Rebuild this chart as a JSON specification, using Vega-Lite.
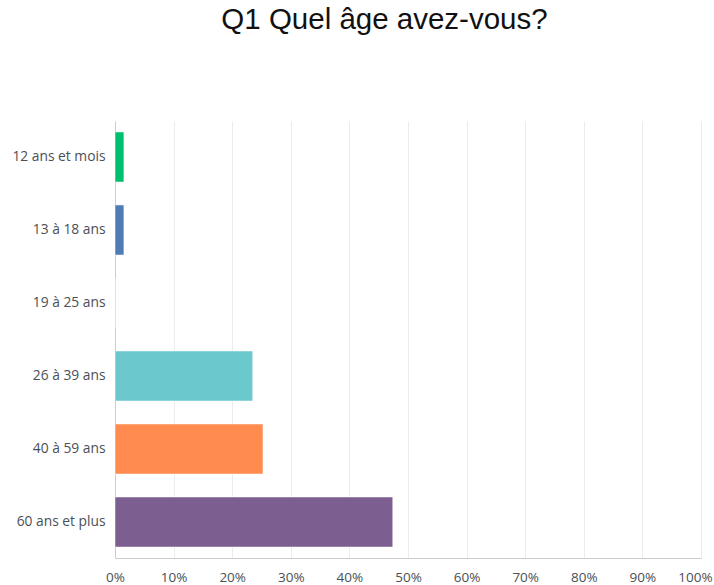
{
  "$schema": "https://vega.github.io/schema/vega-lite/v6.json",
  "width": 586,
  "height": 437,
  "autosize": {"type": "none"},
  "padding": {"left": 115, "top": 121, "right": 13, "bottom": 27},
  "background": "white",
  "title": {
    "text": "Q1 Quel âge avez-vous?",
    "font": "Liberation Sans",
    "fontSize": 29.5,
    "fontWeight": "normal",
    "color": "#111111",
    "anchor": "middle",
    "frame": "group",
    "dx": -23.5,
    "baseline": "alphabetic",
    "offset": 63
  },
  "data": {
    "values": [
      {"age": "12 ans et mois", "pct": 1.52},
      {"age": "13 à 18 ans", "pct": 1.52},
      {"age": "19 à 25 ans", "pct": 0},
      {"age": "26 à 39 ans", "pct": 23.5},
      {"age": "40 à 59 ans", "pct": 25.25},
      {"age": "60 ans et plus", "pct": 47.4}
    ]
  },
  "config": {
    "view": {"stroke": null},
    "axis": {"labelFont": "Open Sans", "labelFontSize": 13.8, "labelColor": "#4a4f55"}
  },
  "mark": {"type": "bar", "strokeWidth": 1, "strokeOpacity": 0.5, "stroke": "white"},
  "encoding": {
    "y": {
      "field": "age",
      "type": "nominal",
      "sort": null,
      "scale": {"paddingInner": 0.314, "paddingOuter": 0.15},
      "axis": {
        "title": null,
        "ticks": false,
        "domain": true,
        "domainColor": "#cccccc",
        "labelPadding": 10,
        "grid": false
      }
    },
    "x": {
      "field": "pct",
      "type": "quantitative",
      "scale": {"domain": [0, 100], "nice": false},
      "axis": {
        "title": null,
        "values": [0, 10, 20, 30, 40, 50, 60, 70, 80, 90, 100],
        "labelExpr": "datum.value + '%'",
        "labelFlush": false,
        "labelOffset": {"condition": {"test": "datum.value == 100", "value": -6}, "value": 0},
        "ticks": false,
        "domain": true,
        "domainColor": "#cccccc",
        "grid": true,
        "gridColor": "#ececec",
        "labelPadding": 12,
        "labelFontSize": 13.5
      }
    },
    "color": {
      "field": "age",
      "type": "nominal",
      "sort": null,
      "scale": {
        "domain": ["12 ans et mois", "13 à 18 ans", "19 à 25 ans", "26 à 39 ans", "40 à 59 ans", "60 ans et plus"],
        "range": ["#00bf6f", "#507cb6", "#f9be00", "#6bc8cd", "#ff8b4f", "#7d5e90"]
      },
      "legend": null
    }
  }
}
